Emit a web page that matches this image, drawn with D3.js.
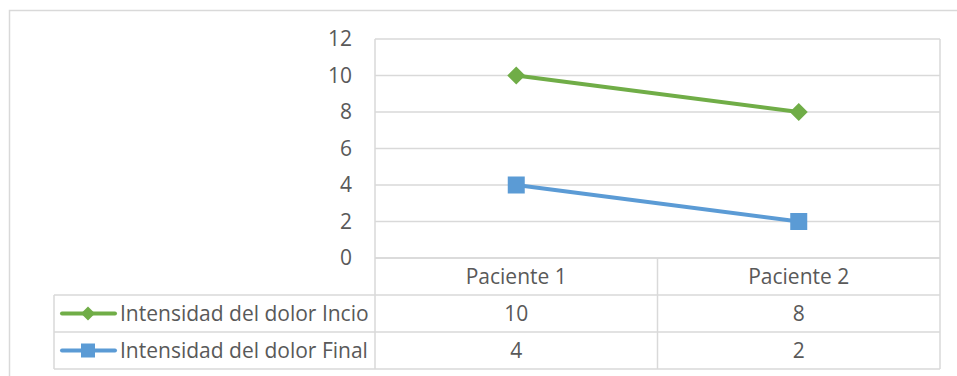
<!DOCTYPE html>
<html>
<head>
<meta charset="utf-8">
<script src="https://cdn.jsdelivr.net/npm/d3@7/dist/d3.min.js"></script>
<style>
  html, body { margin: 0; padding: 0; background: #fff; }
  svg { display: block; }
  text { font-family: "Open Sans", Lato, sans-serif; fill: #595959; }
</style>
</head>
<body>
<svg id="chart" width="957" height="376"></svg>
<script>
// Categories, series and axis ticks
const categories = ["Paciente 1", "Paciente 2"];
const seriesNames = ["Intensidad del dolor Incio", "Intensidad del dolor Final"];
const inicioValues = [10, 8];
const finalValues = [4, 2];
const yTicks = [0, 2, 4, 6, 8, 10, 12];

const series = [
  { name: seriesNames[0], values: inicioValues, color: "#70AD47", marker: "diamond" },
  { name: seriesNames[1], values: finalValues, color: "#5B9BD5", marker: "square" }
];

const svg = d3.select("#chart");
const grid = "#D9D9D9";
const fontSize = "21px";

// Outer chart frame
svg.append("rect")
  .attr("x", 9.5).attr("y", 10.5)
  .attr("width", 960).attr("height", 400)
  .attr("fill", "none").attr("stroke", grid).attr("stroke-width", 1.5);

const plot = { left: 375, right: 940, top: 39, bottom: 258 };

const x = d3.scaleBand().domain(categories).range([plot.left, plot.right]);
const y = d3.scaleLinear().domain([0, 12]).range([plot.bottom, plot.top]);

// Horizontal gridlines
svg.append("g").selectAll("line").data(yTicks).join("line")
  .attr("x1", plot.left).attr("x2", plot.right)
  .attr("y1", d => y(d)).attr("y2", d => y(d))
  .attr("stroke", grid).attr("stroke-width", 1.5);

// Y axis labels
const yAxis = d3.axisLeft(y).tickValues(yTicks).tickSize(0).tickPadding(23);
const yg = svg.append("g").attr("transform", `translate(${plot.left},0)`).call(yAxis);
yg.select(".domain").remove();
yg.selectAll("text").style("font-size", fontSize).attr("fill", "#595959")
  .style("font-family", "'Open Sans', Lato, sans-serif");

// Data table below the plot
const legendLeft = 54;
const rowH = 37;
const tableTop = plot.bottom;
const rows = [tableTop, tableTop + rowH, tableTop + 2 * rowH, tableTop + 3 * rowH];

const tbl = svg.append("g");
// vertical lines: plot left, category divider, right edge
[plot.left, plot.left + x.bandwidth(), plot.right].forEach((xv, i) => {
  tbl.append("line").attr("x1", xv).attr("x2", xv)
    .attr("y1", i === 1 ? tableTop : plot.top).attr("y2", rows[3])
    .attr("stroke", grid).attr("stroke-width", 1.5);
});
// legend column left edge
tbl.append("line").attr("x1", legendLeft).attr("x2", legendLeft)
  .attr("y1", rows[1]).attr("y2", rows[3])
  .attr("stroke", grid).attr("stroke-width", 1.5);
// horizontal rules
rows.forEach((yv, i) => {
  tbl.append("line")
    .attr("x1", i === 0 ? plot.left : legendLeft).attr("x2", plot.right)
    .attr("y1", yv).attr("y2", yv)
    .attr("stroke", grid).attr("stroke-width", 1.5);
});

// category header row
tbl.selectAll("text.cat").data(categories).join("text")
  .attr("class", "cat")
  .attr("x", d => x(d) + x.bandwidth() / 2)
  .attr("y", rows[0] + rowH / 2)
  .attr("dy", "0.35em").attr("text-anchor", "middle")
  .style("font-size", fontSize)
  .text(d => d);

function drawMarker(g, type, cx, cy, color, s) {
  if (type === "diamond") {
    g.append("path")
      .attr("d", `M${cx},${cy - s}L${cx + s},${cy}L${cx},${cy + s}L${cx - s},${cy}Z`)
      .attr("fill", color);
  } else {
    g.append("rect").attr("x", cx - s).attr("y", cy - s)
      .attr("width", 2 * s).attr("height", 2 * s).attr("fill", color);
  }
}

const line = d3.line().x((d, i) => x(categories[i]) + x.bandwidth() / 2).y(d => y(d));

series.forEach((s, si) => {
  const g = svg.append("g");
  g.append("path").datum(s.values)
    .attr("d", line).attr("fill", "none")
    .attr("stroke", s.color).attr("stroke-width", 4);
  s.values.forEach((v, i) => {
    drawMarker(g, s.marker, x(categories[i]) + x.bandwidth() / 2, y(v), s.color,
      s.marker === "diamond" ? 9 : 8.5);
  });

  // table row: legend key, name and values
  const rowMid = rows[si + 1] + rowH / 2;
  g.append("line").attr("x1", 62).attr("x2", 115)
    .attr("y1", rowMid).attr("y2", rowMid)
    .attr("stroke", s.color).attr("stroke-width", 4).attr("stroke-linecap", "round");
  drawMarker(g, s.marker, 88, rowMid, s.color, s.marker === "diamond" ? 7 : 7);
  g.append("text").attr("x", 120).attr("y", rowMid).attr("dy", "0.35em")
    .style("font-size", fontSize).text(s.name);
  s.values.forEach((v, i) => {
    g.append("text")
      .attr("x", x(categories[i]) + x.bandwidth() / 2).attr("y", rowMid)
      .attr("dy", "0.35em").attr("text-anchor", "middle")
      .style("font-size", fontSize).text(v);
  });
});
</script>
</body>
</html>
